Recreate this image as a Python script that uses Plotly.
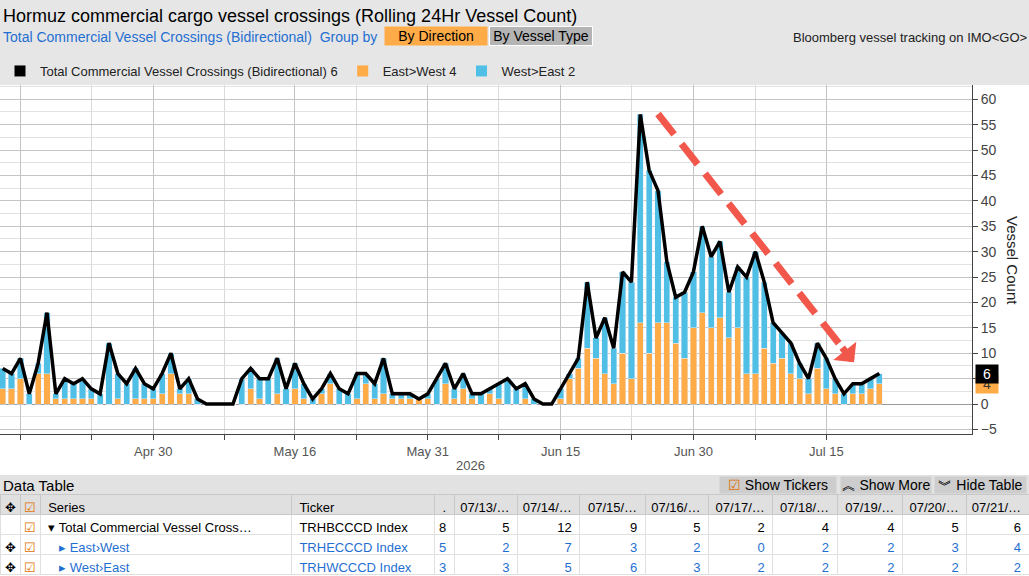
import pandas as pd
import plotly.graph_objects as go

# daily rolling 24hr counts, first bar on Apr 13 2026
start_date = "2026-04-13"
total = [7, 6, 9, 2, 8, 18, 2, 5, 4, 5, 3, 2, 12, 6, 4, 7, 4, 3, 6, 10,
         3, 5, 1, 0, 0, 0, 0, 5, 7, 5, 5, 9, 3, 8, 4, 1, 3, 6, 3, 2,
         6, 6, 4, 9, 2, 2, 2, 1, 2, 5, 8, 3, 6, 2, 2, 3, 4, 5, 3, 4,
         1, 0, 0, 3, 6, 9, 24, 13, 17, 11, 26, 24, 57, 46, 42, 28, 21, 22, 26, 35,
         29, 32, 22, 27, 25, 30, 24, 16, 14, 12, 8, 5, 12, 9, 5, 2, 4, 4, 5, 6]
east_west = [3, 3, 5, 0, 6, 6, 1, 1, 1, 1, 1, 0, 0, 1, 0, 1, 1, 1, 2, 6,
             2, 2, 0, 0, 0, 0, 0, 0, 3, 1, 0, 2, 0, 3, 1, 0, 2, 4, 0, 0,
             1, 4, 1, 2, 1, 1, 1, 1, 1, 0, 4, 1, 3, 1, 0, 2, 1, 0, 0, 1,
             0, 0, 0, 1, 5, 7, 11, 9, 6, 4, 10, 5, 16, 10, 16, 16, 12, 9, 15, 18,
             15, 17, 13, 15, 6, 6, 11, 8, 9, 6, 5, 2, 7, 3, 2, 0, 2, 2, 3, 4]
west_east = [4, 3, 4, 2, 2, 12, 1, 4, 3, 4, 2, 2, 12, 5, 4, 6, 3, 2, 4, 4,
             1, 3, 1, 0, 0, 0, 0, 5, 4, 4, 5, 7, 3, 5, 3, 1, 1, 2, 3, 2,
             5, 2, 3, 7, 1, 1, 1, 0, 1, 5, 4, 2, 3, 1, 2, 1, 3, 5, 3, 3,
             1, 0, 0, 2, 1, 2, 13, 4, 11, 7, 16, 19, 41, 36, 26, 12, 9, 13, 11, 17,
             14, 15, 9, 12, 19, 24, 13, 8, 5, 6, 3, 3, 5, 6, 3, 2, 2, 2, 2, 2]
dates = pd.date_range(start_date, periods=len(total), freq="D")

major_ticks = ["2026-04-15", "2026-04-30", "2026-05-16", "2026-05-31",
               "2026-06-15", "2026-06-30", "2026-07-15"]
major_labels = ["", "Apr 30", "May 16", "May 31", "Jun 15", "Jun 30", "Jul 15"]
minor_ticks = ["2026-04-23", "2026-05-08", "2026-05-23", "2026-06-08",
               "2026-06-23", "2026-07-07"]

tickers = ["TRHBCCCD Index", "TRHECCCD Index", "TRHWCCCD Index"]
# "›" instead of ">" in the table: plotly grows table rows that look like markup
series_labels = ["▾ Total Commercial Vessel Cross…",
                 "   ▸ East›West",
                 "   ▸ West›East"]

ORANGE = "#ffab47"
BLUE = "#4fbfe6"
LINK = "#1f6fd1"
FONT = "Liberation Sans, Arial, sans-serif"
W, H = 1029, 576


def px(x):
    return x / W


def py(y):
    return 1 - y / H


def nb(s):
    # non-breaking spaces so table cells never try to wrap
    return s.replace(" ", "\u00a0")


fig = go.Figure()

fig.add_bar(x=dates, y=east_west, marker_color=ORANGE, showlegend=False, name="East>West")
fig.add_bar(x=dates, y=west_east, marker_color=BLUE, showlegend=False, name="West>East")
fig.add_scatter(x=dates, y=total, mode="lines", line=dict(color="black", width=3.5),
                showlegend=False, name="Total")

# legend entries (square swatches like the terminal)
legend_items = [
    ("Total Commercial Vessel Crossings (Bidirectional) %d" % total[-1], "black"),
    ("East>West %d" % east_west[-1], ORANGE),
    ("West>East %d" % west_east[-1], BLUE),
]
for name, col in legend_items:
    fig.add_scatter(x=[None], y=[None], mode="markers", name=name,
                    marker=dict(symbol="square", size=11, color=col))

# data table under the chart
tab_n = 10
tab_dates = dates[-tab_n:]
date_heads = ["."] + [d.strftime("%m/%d") + "/…" for d in tab_dates[1:]]
header_vals = ["✥", "☑", "Series", "Ticker"] + date_heads
cell_vals = [["", "✥", "✥"], ["☑", "☑", "☑"],
             [nb(s) for s in series_labels], [nb(t) for t in tickers]]
for i in range(len(total) - tab_n, len(total)):
    cell_vals.append([str(total[i]), str(east_west[i]), str(west_east[i])])
row_cols = ["black", LINK, LINK]
cell_colors = [["black"] * 3, ["#e07000"] * 3] + [row_cols] * (len(cell_vals) - 2)

fig.add_trace(go.Table(
    domain=dict(x=[0, 1], y=[0, py(494)]),
    columnwidth=[20, 20, 250, 142, 20, 63, 62, 65, 63, 64, 64, 65, 64, 62],
    header=dict(values=header_vals, height=20, fill_color="#e0e0e0",
                line_color="#c8c8c8", align=["center", "center", "left", "left"] + ["right"] * 10,
                font=dict(family=FONT, size=13, color=["black", "#e07000"] + ["black"] * 12)),
    cells=dict(values=cell_vals, height=20, fill_color="white", line_color="#e0e0e0",
               align=["center", "center", "left", "left"] + ["right"] * 10,
               font=dict(family=FONT, size=13, color=cell_colors)),
))

ann = []
ann.append(dict(text="Hormuz commercial cargo vessel crossings (Rolling 24Hr Vessel Count)",
                x=px(1), y=py(16), xanchor="left", font=dict(size=18, color="black")))
ann.append(dict(text="Total Commercial Vessel Crossings (Bidirectional)\u00a0\u00a0Group by",
                x=px(1), y=py(37), xanchor="left", font=dict(size=14, color=LINK)))
ann.append(dict(text="By Direction", x=px(436), y=py(36), width=100, height=16,
                bgcolor=ORANGE, font=dict(size=14, color="black")))
ann.append(dict(text="By Vessel Type", x=px(541), y=py(36), width=100, height=16,
                bgcolor="#b4b4b4", bordercolor="white", borderwidth=1,
                font=dict(size=14, color="black")))
ann.append(dict(text="Bloomberg vessel tracking on IMO&lt;GO&gt;", x=px(1029), y=py(37),
                xanchor="right", font=dict(size=13, color="#222")))
ann.append(dict(text="Vessel Count", x=px(1013), y=py(260), textangle=90,
                font=dict(size=15, color="#222")))
ann.append(dict(text="2026", x=px(470), y=py(465), font=dict(size=13, color="#555")))
ann.append(dict(text="Data Table", x=px(1), y=py(485), xanchor="left",
                font=dict(size=15, color="black")))
ann.append(dict(text="<span style='color:#e07000'>☑</span> Show Tickers", x=px(778), y=py(485),
                width=114, height=14, bgcolor="#cdcdcd", font=dict(size=14, color="black")))
ann.append(dict(text="︽ Show More", x=px(886), y=py(485), width=88, height=14,
                bgcolor="#cdcdcd", font=dict(size=14, color="black")))
ann.append(dict(text="︾ Hide Table", x=px(980), y=py(485), width=89, height=14,
                bgcolor="#cdcdcd", font=dict(size=14, color="black")))
for a in ann:
    a.setdefault("xanchor", "center")
    a.update(xref="paper", yref="paper", yanchor="middle", showarrow=False)
    a["font"]["family"] = FONT

# last value tags on the right axis
for val, bg in [(east_west[-1], ORANGE), (total[-1], "black")]:
    ann.append(dict(text=str(val), xref="paper", yref="y", x=px(975), y=val,
                    xanchor="left", yanchor="middle",
                    showarrow=False, bgcolor=bg, width=20, height=16,
                    font=dict(family=FONT, size=14, color="white" if bg == "black" else "#333")))

# hand drawn trend arrow
ann.append(dict(text="", x="2026-07-18 03:00", y=8.2, ax="2026-07-16 16:00", ay=11.4,
                xref="x", yref="y", axref="x", ayref="y", showarrow=True,
                arrowhead=1, arrowsize=0.7, arrowwidth=7, arrowcolor="#f2574b", standoff=0))

shapes = [
    dict(type="rect", xref="paper", yref="paper", x0=0, x1=1, y0=py(85), y1=1,
         fillcolor="#e6e6e6", line_width=0, layer="below"),
    dict(type="rect", xref="paper", yref="paper", x0=0, x1=1, y0=py(494), y1=py(475),
         fillcolor="#e2e2e2", line_width=0, layer="below"),
    dict(type="line", xref="x", yref="y", x0="2026-06-26", y0=57.1,
         x1="2026-07-16 16:00", y1=11.4,
         line=dict(color="#f2574b", width=7, dash="26px,12px")),
]

fig.update_layout(
    width=W, height=H,
    margin=dict(l=0, r=0, t=0, b=0),
    paper_bgcolor="white", plot_bgcolor="white",
    font=dict(family=FONT, size=13, color="#222"),
    barmode="stack", bargap=0.3,
    showlegend=True,
    legend=dict(orientation="h", x=0, y=py(71), xanchor="left", yanchor="middle",
                bgcolor="rgba(0,0,0,0)", font=dict(size=13, color="#222"),
                traceorder="normal", itemclick=False),
    annotations=ann,
    shapes=shapes,
    hovermode=False,
)

fig.update_xaxes(
    domain=[0, px(972)],
    range=["2026-04-12 16:40", "2026-07-31 11:00"],
    tickvals=major_ticks, ticktext=major_labels,
    ticks="outside", ticklen=5, tickcolor="#444",
    tickfont=dict(size=13, color="#555"),
    showgrid=True, gridcolor="#c4c4c4",
    minor=dict(tickvals=minor_ticks, ticks="outside", ticklen=5, tickcolor="#444",
               showgrid=True, gridcolor="#dadada"),
    showline=True, linecolor="#444", linewidth=1,
    automargin=False, fixedrange=True,
)
fig.update_yaxes(
    domain=[py(434), py(85)],
    range=[-5.9, 62.8],
    side="right", dtick=5, tick0=0,
    ticks="outside", ticklen=5, tickcolor="#444",
    tickfont=dict(size=14, color="#444"),
    showgrid=True, gridcolor="#c4c4c4",
    minor=dict(dtick=2.5, showgrid=True, gridcolor="#e2e2e2"),
    zeroline=True, zerolinecolor="#9a9a9a", zerolinewidth=1,
    showline=True, linecolor="#444", linewidth=1,
    automargin=False, fixedrange=True,
)

# page has a default 8px body margin; drop it so the figure fills the window
fig.write_html("out.html", config={"displayModeBar": False},
               post_script="document.body.style.margin='0';")
